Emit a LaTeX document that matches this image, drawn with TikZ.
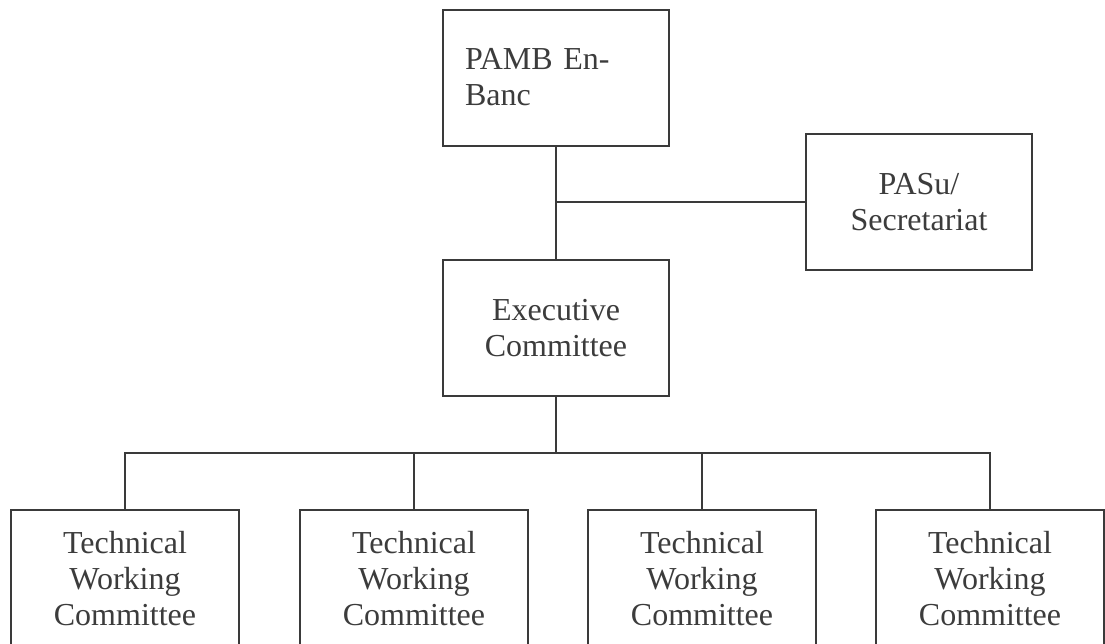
\documentclass[tikz,border=0pt]{standalone}
\usepackage{fontspec}
\setmainfont{Liberation Serif}
\definecolor{linec}{HTML}{3A3A3A}
\definecolor{textc}{HTML}{3C3C3C}
\tikzset{
  orgbox/.style={draw=linec, line width=2pt, minimum width=226pt, minimum height=136pt,
    inner sep=0pt, align=center, text=textc, font=\fontsize{32}{36}\selectfont},
  twcbox/.style={orgbox, minimum width=228pt, minimum height=138pt},
  conn/.style={draw=linec, line width=2pt}
}
\begin{document}
\begin{tikzpicture}[x=1pt,y=-1pt]
\useasboundingbox (0,0) rectangle (1105,643);
\clip (0,0) rectangle (1105,643);
\fill[white] (0,0) rectangle (1105,643);
\node[orgbox, align=left, text width=182pt] (pamb) at (556,77.5) {PAMB En-\\Banc};
\node[orgbox] (sec) at (919,202) {PASu/\\Secretariat};
\node[orgbox] (exec) at (556,328) {Executive\\Committee};
\node[twcbox] (t1) at (125,579) {Technical\\Working\\Committee};
\node[twcbox] (t2) at (414,579) {Technical\\Working\\Committee};
\node[twcbox] (t3) at (702,579) {Technical\\Working\\Committee};
\node[twcbox] (t4) at (990,579) {Technical\\Working\\Committee};
\coordinate (bus) at (556,453);
\draw[conn] (pamb.south) -- (exec.north);
\draw[conn] (sec.west) -- (sec.west -| pamb.south);
\draw[conn] (exec.south) -- (bus);
\draw[conn] (t1.north) |- (bus) -| (t4.north);
\draw[conn] (t2.north) -- (t2.north |- bus);
\draw[conn] (t3.north) -- (t3.north |- bus);
\end{tikzpicture}
\end{document}
